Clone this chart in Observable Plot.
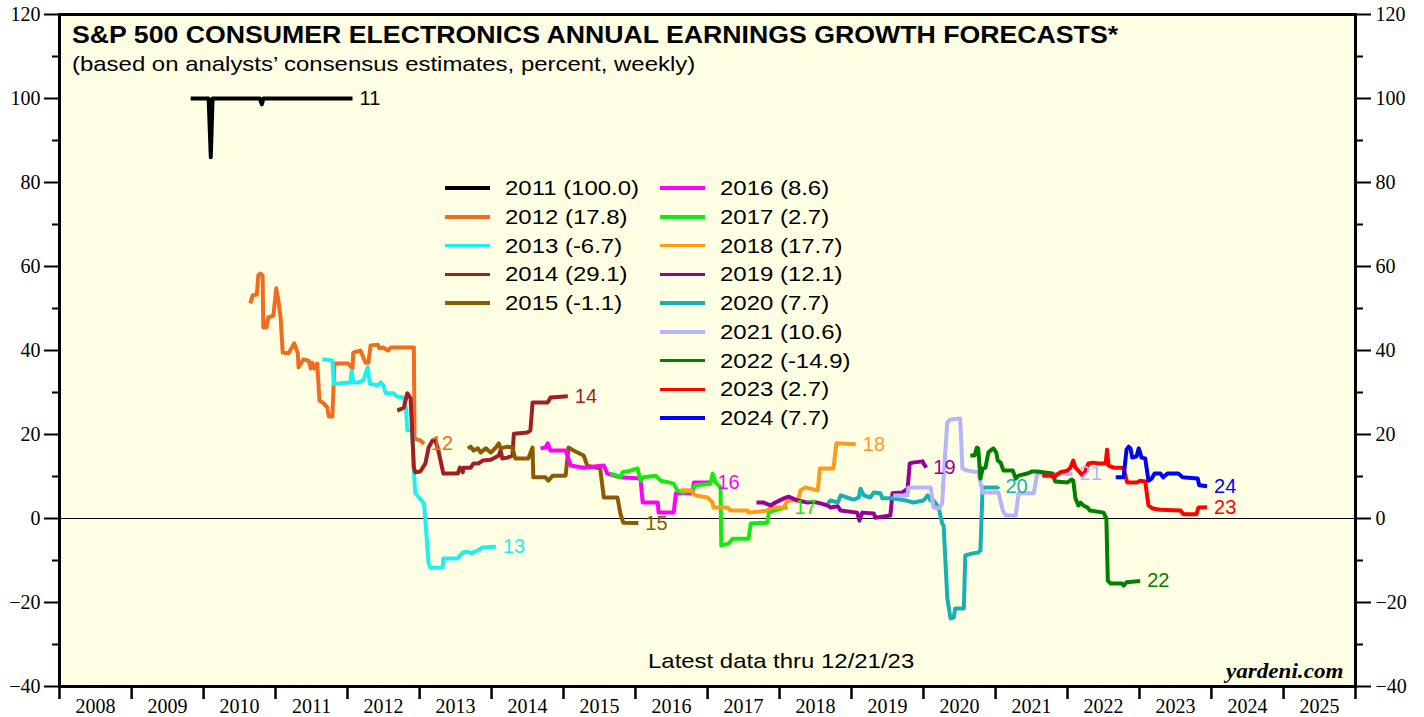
<!DOCTYPE html>
<html><head><meta charset="utf-8">
<script src="https://cdn.jsdelivr.net/npm/d3@7"></script>
<script src="https://cdn.jsdelivr.net/npm/@observablehq/plot@0.6"></script>
<style>
body{margin:0;background:#fff;}
#wrap{position:relative;width:1424px;height:717px;overflow:hidden;}
.ov{position:absolute;white-space:nowrap;line-height:1;transform-origin:0 0;font-family:"Liberation Sans",Arial,sans-serif;color:#000;}
</style></head><body><div id="wrap"></div>
<script>
// ---------- data ----------
const yearLabels = ["2008","2009","2010","2011","2012","2013","2014","2015","2016","2017","2018","2019","2020","2021","2022","2023","2024","2025"];
const yTicks = [-40,-20,0,20,40,60,80,100,120];
const yMinorTicks = [-30,-10,10,30,50,70,90,110];
const seriesYears = ["2011","2012","2013","2014","2015","2016","2017","2018","2019","2020","2021","2022","2023","2024"];
const legendValues = ["100.0","17.8","-6.7","29.1","-1.1","8.6","2.7","17.7","12.1","7.7","10.6","-14.9","2.7","7.7"];

const s2011 = [[2009.82,100],[2010.07,100],[2010.10,86],[2010.125,100],[2010.78,100],[2010.81,98.6],[2010.83,100],[2012.07,100]];
const s2012 = [[2010.65,51.2],[2010.68,53.1],[2010.74,53.3],[2010.76,57.9],[2010.79,58.3],[2010.82,57.9],[2010.83,45.5],[2010.875,45.5],[2010.90,47.9],[2010.97,48.3],[2011.01,54.8],[2011.04,51.9],[2011.07,47.9],[2011.10,39.5],[2011.18,39.3],[2011.26,41.7],[2011.31,39.3],[2011.32,36.0],[2011.39,37.9],[2011.46,37.6],[2011.49,35.7],[2011.51,37.1],[2011.54,35.7],[2011.58,36.9],[2011.61,28.1],[2011.67,27.4],[2011.72,26.4],[2011.74,24.3],[2011.79,24.3],[2011.82,36.9],[2012.01,36.9],[2012.07,35.7],[2012.08,39.5],[2012.18,40.0],[2012.25,37.1],[2012.29,37.1],[2012.32,41.2],[2012.42,41.4],[2012.44,40.5],[2012.50,40.7],[2012.56,40.0],[2012.60,40.7],[2012.92,40.7],[2012.93,19.0],[2013.01,18.6],[2013.06,17.8]];
const s2013 = [[2011.65,37.9],[2011.79,37.6],[2011.81,32.1],[2012.04,32.4],[2012.06,35.2],[2012.08,32.4],[2012.15,32.4],[2012.22,32.9],[2012.28,36.0],[2012.31,32.1],[2012.42,31.7],[2012.46,32.4],[2012.50,31.7],[2012.53,29.8],[2012.64,29.8],[2012.69,29.0],[2012.78,28.8],[2012.81,26.4],[2012.83,21.0],[2012.90,21.0],[2012.92,11.4],[2012.94,6.0],[2013.06,3.6],[2013.08,-0.5],[2013.125,-10.7],[2013.15,-11.7],[2013.32,-11.7],[2013.33,-9.5],[2013.53,-9.5],[2013.60,-8.1],[2013.67,-7.9],[2013.71,-8.3],[2013.81,-7.6],[2013.875,-6.9],[2014.06,-6.7]];
const s2014 = [[2012.69,25.7],[2012.78,26.4],[2012.83,29.8],[2012.875,28.6],[2012.92,12.1],[2012.94,11.0],[2013.01,11.2],[2013.08,13.1],[2013.125,16.9],[2013.18,18.6],[2013.22,18.6],[2013.26,16.2],[2013.33,10.7],[2013.53,10.7],[2013.56,12.1],[2013.60,11.0],[2013.61,12.1],[2013.71,12.1],[2013.75,13.1],[2013.82,13.1],[2013.875,13.8],[2013.99,14.0],[2014.10,15.0],[2014.125,16.2],[2014.15,14.3],[2014.22,14.5],[2014.29,15.0],[2014.31,20.2],[2014.50,20.5],[2014.54,21.0],[2014.57,27.6],[2014.78,27.6],[2014.82,28.8],[2015.06,29.1]];
const s2015 = [[2013.67,16.7],[2013.71,17.1],[2013.75,16.2],[2013.81,16.7],[2013.85,15.7],[2013.92,16.7],[2013.99,15.7],[2014.06,16.9],[2014.10,17.9],[2014.125,16.7],[2014.22,17.1],[2014.29,16.9],[2014.31,15.5],[2014.33,14.3],[2014.51,14.3],[2014.57,16.9],[2014.58,9.8],[2014.75,9.8],[2014.79,9.0],[2014.85,10.2],[2015.03,10.2],[2015.07,16.9],[2015.14,16.2],[2015.28,15.0],[2015.33,12.6],[2015.51,11.9],[2015.56,5.0],[2015.75,5.0],[2015.79,1.2],[2015.83,-1.0],[2016.04,-1.1]];
const s2016 = [[2014.68,16.7],[2014.75,16.9],[2014.78,17.9],[2014.82,16.2],[2015.03,16.2],[2015.10,12.6],[2015.28,12.1],[2015.56,12.6],[2015.61,10.7],[2015.79,9.8],[2016.07,9.5],[2016.10,3.8],[2016.31,3.8],[2016.32,1.4],[2016.53,1.4],[2016.56,6.0],[2016.79,6.0],[2016.81,8.6],[2017.04,8.6]];
const s2017 = [[2015.65,10.7],[2015.75,10.2],[2015.79,9.8],[2015.82,11.0],[2015.93,11.4],[2016.03,11.9],[2016.07,9.0],[2016.11,9.8],[2016.28,10.2],[2016.35,9.0],[2016.46,8.6],[2016.53,8.3],[2016.58,6.7],[2016.65,6.2],[2016.79,6.7],[2016.83,7.9],[2017.04,8.3],[2017.07,10.7],[2017.08,10.2],[2017.11,8.6],[2017.18,7.4],[2017.19,-6.4],[2017.29,-6.0],[2017.35,-4.8],[2017.57,-4.8],[2017.60,-1.2],[2017.83,-1.0],[2017.85,1.4],[2017.92,1.9],[2018.11,2.7]];
const s2018 = [[2016.625,6.7],[2016.76,6.7],[2016.83,5.5],[2017.00,5.0],[2017.07,3.8],[2017.08,2.6],[2017.28,2.6],[2017.32,1.9],[2017.56,1.9],[2017.57,1.4],[2017.83,1.9],[2017.875,2.6],[2018.06,2.6],[2018.11,4.3],[2018.26,4.3],[2018.29,6.7],[2018.36,7.4],[2018.53,6.7],[2018.54,8.3],[2018.56,11.9],[2018.75,11.9],[2018.79,17.9],[2019.06,17.7]];
const s2019 = [[2017.68,3.8],[2017.78,3.8],[2017.875,3.1],[2017.92,3.6],[2018.06,4.8],[2018.125,5.2],[2018.18,4.8],[2018.25,4.3],[2018.39,3.8],[2018.47,4.0],[2018.57,3.6],[2018.67,3.1],[2018.71,2.6],[2018.81,2.9],[2018.85,1.9],[2019.08,1.4],[2019.11,-0.5],[2019.15,1.4],[2019.31,1.2],[2019.33,0.2],[2019.54,0.7],[2019.57,6.0],[2019.71,6.2],[2019.78,7.1],[2019.81,13.1],[2019.85,13.3],[2019.99,13.6],[2020.00,13.1],[2020.04,12.1]];
const s2020 = [[2018.67,3.6],[2018.71,4.3],[2018.81,3.8],[2018.85,5.5],[2018.94,5.0],[2019.03,4.5],[2019.10,5.0],[2019.125,7.1],[2019.17,5.5],[2019.26,5.0],[2019.31,6.2],[2019.40,6.0],[2019.43,4.8],[2019.57,4.8],[2019.75,4.3],[2019.86,3.8],[2020.00,4.3],[2020.06,5.5],[2020.10,4.3],[2020.14,4.3],[2020.21,2.6],[2020.26,-1.2],[2020.28,-1.7],[2020.33,-18.8],[2020.375,-23.8],[2020.42,-23.6],[2020.44,-21.4],[2020.56,-21.4],[2020.58,-8.8],[2020.68,-8.3],[2020.76,-8.1],[2020.79,-7.6],[2020.82,7.4],[2020.85,7.4],[2021.03,7.4],[2021.04,7.7]];
const s2021 = [[2019.58,5.5],[2019.78,5.5],[2019.79,7.4],[2020.10,7.4],[2020.14,2.6],[2020.21,2.4],[2020.26,3.6],[2020.28,9.8],[2020.33,22.9],[2020.375,23.6],[2020.51,23.8],[2020.54,11.9],[2020.61,11.4],[2020.76,11.0],[2020.82,6.2],[2021.04,6.2],[2021.10,1.9],[2021.14,0.7],[2021.28,0.7],[2021.32,6.0],[2021.53,6.0],[2021.58,10.7],[2022.07,10.6]];
const s2022 = [[2020.65,15.0],[2020.71,15.0],[2020.74,16.9],[2020.76,16.7],[2020.79,9.5],[2020.82,11.9],[2020.86,12.1],[2020.90,15.7],[2020.93,16.2],[2020.97,16.7],[2021.01,15.7],[2021.03,13.8],[2021.07,13.3],[2021.11,11.4],[2021.24,11.4],[2021.28,9.5],[2021.32,10.2],[2021.44,10.7],[2021.51,11.2],[2021.58,11.2],[2021.79,10.7],[2021.83,8.8],[2022.00,8.6],[2022.06,9.3],[2022.08,9.0],[2022.11,4.8],[2022.15,3.1],[2022.18,3.8],[2022.22,3.1],[2022.28,2.6],[2022.31,1.9],[2022.50,1.4],[2022.54,0.0],[2022.56,-14.8],[2022.60,-15.5],[2022.76,-15.5],[2022.78,-16.0],[2022.82,-15.2],[2023.01,-14.9]];
const s2023 = [[2021.65,10.2],[2021.76,10.2],[2021.81,9.8],[2021.86,10.5],[2021.90,11.0],[2022.00,11.4],[2022.04,12.1],[2022.08,13.8],[2022.11,12.1],[2022.15,11.4],[2022.21,10.2],[2022.25,11.4],[2022.29,13.1],[2022.36,13.3],[2022.43,13.1],[2022.53,13.1],[2022.55,16.4],[2022.57,12.6],[2022.64,12.1],[2022.78,12.1],[2022.81,9.8],[2022.83,8.6],[2022.97,8.6],[2023.01,9.0],[2023.08,8.8],[2023.125,3.1],[2023.18,2.4],[2023.29,2.1],[2023.57,1.9],[2023.61,1.0],[2023.79,1.0],[2023.82,2.6],[2023.94,2.7]];
const s2024 = [[2022.67,9.8],[2022.78,9.8],[2022.82,16.4],[2022.85,17.1],[2022.875,16.7],[2022.90,14.5],[2022.96,14.8],[2022.99,16.7],[2023.03,14.5],[2023.08,14.3],[2023.125,9.0],[2023.17,9.5],[2023.21,10.7],[2023.29,10.7],[2023.33,9.8],[2023.39,10.7],[2023.54,10.7],[2023.60,9.8],[2023.81,9.5],[2023.83,7.9],[2023.94,7.7]];

const seriesData = [s2011,s2012,s2013,s2014,s2015,s2016,s2017,s2018,s2019,s2020,s2021,s2022,s2023,s2024];
const seriesColors = ["#000000","#f26b21","#1ef0f0","#a31d22","#8a5a05","#ff00ff","#12ea12","#ff9a1a","#990099","#17b1b4","#b5b5ff","#008000","#ff0000","#0000ff"];

// ---------- helpers ----------
function toDate(t){const y=Math.floor(t);const a=Date.UTC(y,0,1),b=Date.UTC(y+1,0,1);return new Date(a+(t-y)*(b-a));}
const rows = seriesData.flatMap((arr,i)=>arr.map(([t,v])=>({series:seriesYears[i],date:toDate(t),value:v})));
const yearStarts = yearLabels.map(y=>toDate(+y)).concat([toDate(+yearLabels[yearLabels.length-1]+1)]);
const yearMids = yearLabels.map(y=>toDate(+y+0.5));

const W=1424,H=717, ML=59, MR=69, MT=14, MB=31;
const serif = "'Liberation Serif', 'Times New Roman', serif";
const sans = "'Liberation Sans', Arial, sans-serif";

const chart = Plot.plot({
  width:W, height:H, marginLeft:ML, marginRight:MR, marginTop:MT, marginBottom:MB,
  style:{background:"transparent", overflow:"visible"},
  x:{type:"utc", domain:[yearStarts[0], yearStarts[yearStarts.length-1]]},
  y:{domain:[-40,120]},
  color:{domain:seriesYears, range:seriesColors},
  marks:[
    Plot.frame({fill:"#ffffe3", stroke:null}),
    Plot.ruleY([0],{stroke:"#000", strokeWidth:1}),
    Plot.line(rows,{x:"date", y:"value", z:"series", stroke:"series", strokeWidth:4, strokeLinejoin:"round", strokeLinecap:"butt"}),
    Plot.text(rows, Plot.selectLast({x:"date", y:"value", z:"series", text:d=>d.series.slice(2), fill:"series", dx:7, textAnchor:"start", fontSize:20, className:"endlabel"})),
    Plot.frame({stroke:"#000", strokeWidth:3}),
    Plot.axisY(yTicks,{anchor:"left", tickSize:15, tickPadding:4, strokeWidth:2, fontSize:20, label:null}),
    Plot.axisY(yMinorTicks,{anchor:"left", tickSize:7, strokeWidth:2, tickFormat:()=>"", label:null}),
    Plot.axisY(yTicks,{anchor:"right", tickSize:15, tickPadding:5, strokeWidth:2, fontSize:20, label:null}),
    Plot.axisY(yMinorTicks,{anchor:"right", tickSize:7, strokeWidth:2, tickFormat:()=>"", label:null}),
    Plot.axisX(yearStarts,{anchor:"bottom", tickSize:13, strokeWidth:2.5, tickFormat:()=>"", label:null}),
    Plot.axisX(yearMids,{anchor:"bottom", tickSize:0, tickPadding:12, fontSize:20, tickFormat:d=>String(d.getUTCFullYear()), label:null})
  ]
});
const wrap = document.getElementById("wrap");
wrap.appendChild(chart);
// fonts: serif for axis tick labels, sans for end labels
chart.querySelectorAll("text").forEach(t=>{
  const g = t.closest("g");
  const lab = g ? (g.getAttribute("aria-label")||"") : "";
  if (lab.includes("axis")) { t.style.fontFamily = serif; t.style.fontSize = "20px"; }
  else { t.style.fontFamily = sans; t.style.fontSize = "20px"; }
});

function addText(txt, left, top, size, extra){
  const d=document.createElement("div"); d.className="ov"; d.textContent=txt;
  d.style.left=left+"px"; d.style.top=top+"px"; d.style.fontSize=size+"px";
  Object.assign(d.style, extra||{}); wrap.appendChild(d); return d;
}
addText("S&P 500 CONSUMER ELECTRONICS ANNUAL EARNINGS GROWTH FORECASTS*", 72, 24, 23, {fontWeight:"bold", transform:"scaleX(1.16)"});
addText("(based on analysts\u2019 consensus estimates, percent, weekly)", 72, 53, 21, {transform:"scaleX(1.14)"});
addText("Latest data thru 12/21/23", 648, 650, 21, {transform:"scaleX(1.14)"});
const yd = addText("yardeni.com", 0, 661, 21, {fontFamily:serif, fontWeight:"bold", fontStyle:"italic", transform:"scaleX(1.1)"});
yd.style.left=(1343 - yd.getBoundingClientRect().width)+"px";

// legend
const legCols=[445,660], legRow0=188, legStep=28.75;
seriesYears.forEach((s,i)=>{
  const col = i<5?0:1, row = i<5?i:i-5;
  const x=legCols[col], y=legRow0+row*legStep;
  const ln=document.createElement("div");
  Object.assign(ln.style,{position:"absolute", left:x+"px", top:(y-1.75)+"px", width:"45px", height:"3.5px", background:seriesColors[i]});
  wrap.appendChild(ln);
  addText(s+" ("+legendValues[i]+")", x+60, y-11, 21, {transform:"scaleX(1.14)"});
});
</script></body></html>
